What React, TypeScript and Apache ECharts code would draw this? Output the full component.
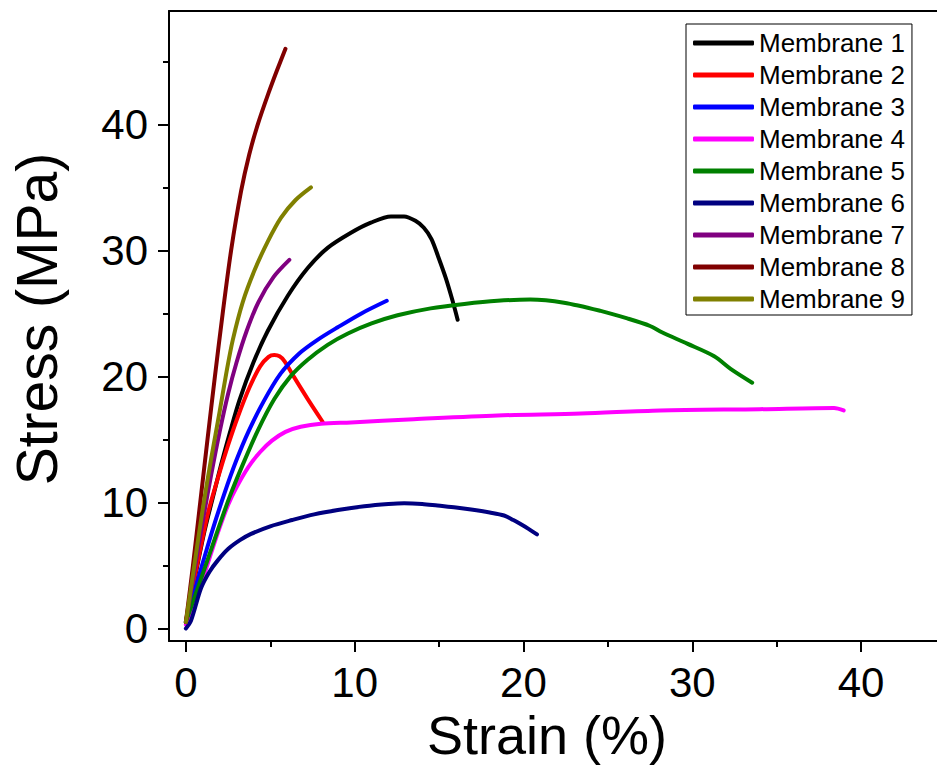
import React, { useEffect, useRef } from "react";
import * as echarts from "echarts";

const seriesNames = [
  "Membrane 1", "Membrane 2", "Membrane 3", "Membrane 4", "Membrane 5",
  "Membrane 6", "Membrane 7", "Membrane 8", "Membrane 9",
];
const seriesColors = [
  "#000000", "#ff0000", "#0000ff", "#ff00ff", "#008000",
  "#000080", "#800080", "#800000", "#808000",
];

const m1: number[][] = [
  [0, 0.5], [0.5, 3.8], [1.1, 7.7], [1.6, 10.4], [2.09, 13.0], [2.6, 15.5], [3.17, 18.1],
  [4.0, 21.1], [4.85, 23.6], [6.04, 26.4], [7.22, 28.6], [8.4, 30.2], [9.78, 31.4],
  [10.96, 32.2], [12.15, 32.7], [12.93, 32.7], [13.6, 32.35], [14.1, 31.8], [14.55, 30.9],
  [14.95, 29.5], [15.4, 27.8], [15.8, 26.0], [16.1, 24.5],
];
const m2: number[][] = [
  [0, 0.5], [0.6, 4.6], [1.3, 9.1], [1.89, 11.9], [2.49, 14.5], [3.08, 16.8], [3.76, 19.1],
  [4.4, 20.8], [4.9, 21.55], [5.24, 21.7], [5.55, 21.6], [5.85, 21.2], [6.43, 19.9],
  [7.22, 18.2], [8.1, 16.4],
];
const m3: number[][] = [
  [0, 0.5], [0.5, 2.9], [1.0, 5.2], [1.6, 7.9], [2.28, 10.7], [2.98, 13.3], [3.7, 15.6],
  [4.6, 18.0], [5.6, 20.2], [6.7, 21.8], [7.8, 22.9], [9.0, 23.9], [10.4, 25.0], [11.9, 26.0],
];
const m4: number[][] = [
  [0, 0.3], [0.5, 1.8], [1.0, 3.9], [1.5, 6.0], [2.0, 8.0], [2.5, 9.8], [3.0, 11.2],
  [3.7, 12.8], [4.4, 14.0], [5.1, 14.9], [5.9, 15.6], [6.8, 16.0], [8.0, 16.25],
  [9.78, 16.35], [13.5, 16.6], [18.46, 16.9], [23.4, 17.05], [28.1, 17.3], [34.0, 17.4],
  [38.4, 17.5], [38.97, 17.3],
];
const m5: number[][] = [
  [0, 0.5], [0.6, 2.8], [1.2, 5.1], [1.89, 7.8], [2.58, 10.4], [3.37, 13.0], [4.26, 15.7],
  [5.24, 18.2], [6.2, 20.0], [7.2, 21.3], [8.4, 22.5], [9.6, 23.4], [11.0, 24.2],
  [12.54, 24.85], [14.5, 25.4], [16.5, 25.75], [18.46, 26.0], [20.4, 26.1], [22.4, 25.85],
  [24.57, 25.2], [26.15, 24.6], [27.5, 24.0], [28.2, 23.5], [29.7, 22.6], [31.3, 21.6],
  [32.27, 20.6], [33.55, 19.5],
];
const m6: number[][] = [
  [0, 0], [0.3, 0.6], [0.9, 3.2], [1.4, 4.5], [1.89, 5.4], [2.5, 6.3], [3.2, 7.0],
  [3.86, 7.5], [5.0, 8.1], [6.3, 8.6], [7.6, 9.05], [9.0, 9.4], [10.57, 9.7], [12.0, 9.88],
  [12.93, 9.94], [14.0, 9.88], [14.91, 9.75], [16.0, 9.6], [16.9, 9.44], [18.0, 9.2],
  [18.85, 8.96], [19.4, 8.6], [19.8, 8.3], [20.3, 7.9], [20.8, 7.46],
];
const m7: number[][] = [
  [0, 0.5], [0.5, 4.5], [1.0, 8.5], [1.5, 12.2], [2.0, 15.6], [2.5, 18.6], [3.0, 21.1],
  [3.6, 23.6], [4.3, 25.9], [5.2, 27.9], [6.13, 29.25],
];
const m8: number[][] = [
  [0, 0.5], [0.42, 5.0], [0.85, 10.0], [1.28, 15.0], [1.72, 20.0], [2.18, 25.0],
  [2.68, 30.0], [3.27, 34.7], [3.75, 37.6], [4.26, 40.0], [4.9, 42.5], [5.4, 44.3], [5.9, 46.0],
];
const m9: number[][] = [
  [0, 0.5], [0.5, 5.0], [1.0, 9.5], [1.5, 13.5], [2.0, 17.2], [2.4, 20.3], [2.78, 22.9],
  [3.37, 25.9], [4.06, 28.4], [4.85, 30.7], [5.64, 32.6], [6.5, 34.0], [7.41, 35.0],
];
const allData = [m1, m2, m3, m4, m5, m6, m7, m8, m9];

const xMajor = [0, 10, 20, 30, 40];
const xMinor = [5, 15, 25, 35];
const yMajor = [0, 10, 20, 30, 40];
const yMinor = [5, 15, 25, 35, 45];

const FONT = "'Liberation Sans', Arial, sans-serif";
const X_MIN = -1;
const X_MAX = 44.5;
const Y_MIN = -1;
const Y_MAX = 49;

export default function App() {
  const ref = useRef<HTMLDivElement>(null);
  useEffect(() => {
    if (!ref.current) return;
    const chart = echarts.init(ref.current, null, { renderer: "svg" });
    const line = { color: "#000", width: 2 };
    const baseX = {
      type: "value" as const,
      min: X_MIN,
      max: X_MAX,
      splitLine: { show: false },
    };
    const baseY = {
      type: "value" as const,
      min: Y_MIN,
      max: Y_MAX,
      splitLine: { show: false },
    };
    chart.setOption({
      animation: false,
      backgroundColor: "#ffffff",
      textStyle: { fontFamily: FONT },
      grid: { left: 168, right: 0, top: 11, bottom: 123, containLabel: false },
      legend: {
        orient: "vertical",
        left: 686,
        top: 24,
        padding: [6, 7, 3, 7],
        borderColor: "#000",
        borderWidth: 1,
        itemWidth: 61,
        itemHeight: 5,
        itemGap: 6,
        icon: "roundRect",
        data: seriesNames,
        textStyle: { fontSize: 26, color: "#000", fontFamily: FONT, lineHeight: 26 },
      },
      xAxis: [
        {
          ...baseX,
          position: "bottom",
          axisLine: { show: true, onZero: false, lineStyle: line },
          axisTick: { show: true, customValues: xMajor, length: 11, lineStyle: line },
          axisLabel: { customValues: xMajor, fontSize: 42, color: "#000", fontFamily: FONT, margin: 20 },
          name: "Strain (%)",
          nameLocation: "middle",
          nameGap: 67,
          nameTextStyle: { fontSize: 54, color: "#000", fontFamily: FONT, padding: [0, 12, 0, 0] },
        },
        {
          ...baseX,
          position: "bottom",
          axisLine: { show: false, onZero: false },
          axisTick: { show: true, customValues: xMinor, length: 6, lineStyle: line },
          axisLabel: { show: false },
        },
        {
          ...baseX,
          position: "top",
          axisLine: { show: true, onZero: false, lineStyle: line },
          axisTick: { show: false },
          axisLabel: { show: false },
        },
      ],
      yAxis: [
        {
          ...baseY,
          position: "left",
          axisLine: { show: true, onZero: false, lineStyle: line },
          axisTick: { show: true, customValues: yMajor, length: 11, lineStyle: line },
          axisLabel: { customValues: yMajor, fontSize: 42, color: "#000", fontFamily: FONT, margin: 21 },
          name: "Stress (MPa)",
          nameLocation: "middle",
          nameGap: 104,
          nameTextStyle: { fontSize: 57, color: "#000", fontFamily: FONT, padding: [0, 0, 0, 14] },
        },
        {
          ...baseY,
          position: "left",
          axisLine: { show: false, onZero: false },
          axisTick: { show: true, customValues: yMinor, length: 6, lineStyle: line },
          axisLabel: { show: false },
        },
      ],
      series: allData.map((d, i) => ({
        name: seriesNames[i],
        type: "line",
        data: d,
        xAxisIndex: 0,
        yAxisIndex: 0,
        showSymbol: false,
        symbol: "none",
        smooth: 0.3,
        color: seriesColors[i],
        lineStyle: { width: 4, color: seriesColors[i], cap: "round", join: "round" },
        z: 2 + i,
      })),
    });
    return () => chart.dispose();
  }, []);
  return (
    <div
      ref={ref}
      style={{ position: "absolute", left: 0, top: 0, width: 937, height: 767, background: "#fff" }}
    />
  );
}
